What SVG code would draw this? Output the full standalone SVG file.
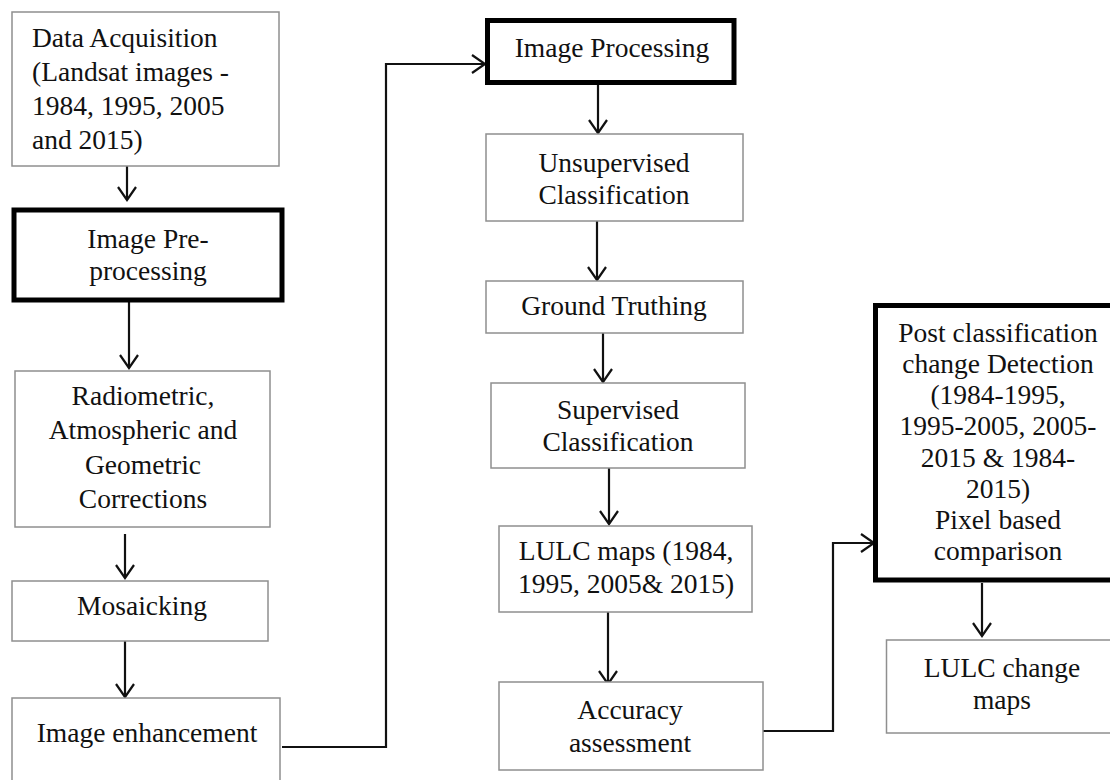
<svg xmlns="http://www.w3.org/2000/svg" width="1110" height="780" viewBox="0 0 1110 780">
<defs>
<style>
.box{fill:#fff;stroke:#8f8f8f;stroke-width:1.5}
.bold{fill:#fff;stroke:#000;stroke-width:5}
.t{font-family:"Liberation Serif","Times New Roman",serif;font-size:27.5px;fill:#111}
.c{text-anchor:middle}
.con{fill:none;stroke:#111;stroke-width:2.2;marker-end:url(#arr)}
</style>
<marker id="arr" markerUnits="userSpaceOnUse" markerWidth="18" markerHeight="22" refX="15" refY="11" orient="auto">
<path d="M2,2 L15,11 L2,20" fill="none" stroke="#111" stroke-width="2.2"/>
</marker>
</defs>
<rect width="1110" height="780" fill="#fff"/>

<g id="connectors">
<line class="con" x1="127" y1="166" x2="127" y2="200"/>
<line class="con" x1="129" y1="302" x2="129" y2="368"/>
<line class="con" x1="125" y1="534" x2="125" y2="578"/>
<line class="con" x1="125" y1="641" x2="125" y2="697"/>
<polyline class="con" points="282,747 386,747 386,64 485,64"/>
<line class="con" x1="598" y1="85" x2="598" y2="133"/>
<line class="con" x1="597" y1="221" x2="597" y2="280"/>
<line class="con" x1="603" y1="333" x2="603" y2="382"/>
<line class="con" x1="609" y1="468" x2="609" y2="524"/>
<line class="con" x1="608" y1="612" x2="608" y2="684"/>
<polyline class="con" points="763,731 833,731 833,543 874,543"/>
<line class="con" x1="982" y1="583" x2="982" y2="636"/>
</g>

<g id="data-acquisition">
<rect class="box" x="12" y="12" width="267" height="154"/>
<text class="t" x="32" y="47">Data Acquisition</text>
<text class="t" x="32" y="81">(Landsat images -</text>
<text class="t" x="32" y="115">1984, 1995, 2005</text>
<text class="t" x="32" y="149">and 2015)</text>
</g>

<g id="image-preprocessing">
<rect class="bold" x="14" y="210" width="268" height="90"/>
<text class="t c" x="148" y="248">Image Pre-</text>
<text class="t c" x="148" y="280">processing</text>
</g>

<g id="corrections">
<rect class="box" x="15" y="371" width="255" height="156"/>
<text class="t c" x="143" y="405">Radiometric,</text>
<text class="t c" x="143" y="439">Atmospheric and</text>
<text class="t c" x="143" y="474">Geometric</text>
<text class="t c" x="143" y="508">Corrections</text>
</g>

<g id="mosaicking">
<rect class="box" x="12" y="581" width="256" height="60"/>
<text class="t c" x="142" y="615">Mosaicking</text>
</g>

<g id="image-enhancement">
<rect class="box" x="12" y="698" width="268" height="100"/>
<text class="t c" x="147" y="742">Image enhancement</text>
</g>

<g id="image-processing">
<rect class="bold" x="487.5" y="20.5" width="246.5" height="62"/>
<text class="t c" x="612" y="57">Image Processing</text>
</g>

<g id="unsupervised">
<rect class="box" x="486" y="134" width="257" height="87"/>
<text class="t c" x="614" y="172">Unsupervised</text>
<text class="t c" x="614" y="204">Classification</text>
</g>

<g id="ground-truthing">
<rect class="box" x="486" y="281" width="257" height="52"/>
<text class="t c" x="614" y="315">Ground Truthing</text>
</g>

<g id="supervised">
<rect class="box" x="491" y="383" width="254" height="85"/>
<text class="t c" x="618" y="419">Supervised</text>
<text class="t c" x="618" y="451">Classification</text>
</g>

<g id="lulc-maps">
<rect class="box" x="499" y="526" width="253" height="86"/>
<text class="t c" x="626" y="560">LULC maps (1984,</text>
<text class="t c" x="626" y="593">1995, 2005&amp; 2015)</text>
</g>

<g id="accuracy">
<rect class="box" x="499" y="682" width="264" height="88"/>
<text class="t c" x="630" y="719">Accuracy</text>
<text class="t c" x="630" y="752">assessment</text>
</g>

<g id="post-classification">
<rect class="bold" x="875.5" y="305.5" width="245" height="274.5"/>
<text class="t c" x="998" y="342">Post classification</text>
<text class="t c" x="998" y="373">change Detection</text>
<text class="t c" x="998" y="404">(1984-1995,</text>
<text class="t c" x="998" y="435">1995-2005, 2005-</text>
<text class="t c" x="998" y="467">2015 &amp; 1984-</text>
<text class="t c" x="998" y="498">2015)</text>
<text class="t c" x="998" y="529">Pixel based</text>
<text class="t c" x="998" y="560">comparison</text>
</g>

<g id="lulc-change-maps">
<rect class="box" x="886.5" y="640" width="235" height="93"/>
<text class="t c" x="1002" y="677">LULC change</text>
<text class="t c" x="1002" y="709">maps</text>
</g>
</svg>
